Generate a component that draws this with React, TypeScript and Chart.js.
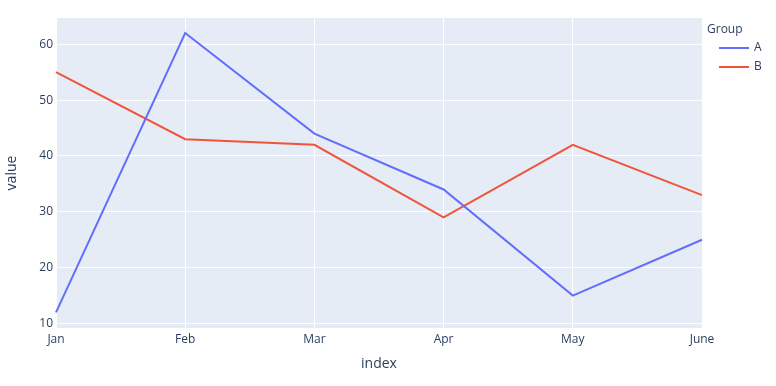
import React, { useEffect, useRef } from "react";
import { Chart, registerables } from "chart.js";

Chart.register(...registerables);

const categories = ["Jan", "Feb", "Mar", "Apr", "May", "June"];
const seriesA = [12, 62, 44, 34, 15, 25];
const seriesB = [55, 43, 42, 29, 42, 33];
const yTicks = [10, 20, 30, 40, 50, 60];
const seriesNames = ["A", "B"];
const seriesColors = ["#636efa", "#EF553B"];
const legendTitle = "Group";

const FONT = '"Open Sans", verdana, arial, sans-serif';
const TEXT = "#2a3f5f";

export default function App() {
  const ref = useRef<HTMLCanvasElement | null>(null);

  useEffect(() => {
    document.body.style.margin = "0";
    const canvas = ref.current!;
    const bgPlugin = {
      id: "plotbg",
      beforeDraw(chart: any) {
        const { ctx, chartArea } = chart;
        ctx.save();
        ctx.fillStyle = "#E5ECF6";
        ctx.fillRect(chartArea.left, chartArea.top, chartArea.right - chartArea.left, chartArea.bottom - chartArea.top);
        ctx.restore();
      },
    };
    const legendPlugin = {
      id: "customLegend",
      afterDraw(chart: any) {
        const { ctx } = chart;
        ctx.save();
        ctx.font = `12px ${FONT}`;
        ctx.fillStyle = TEXT;
        ctx.textBaseline = "middle";
        ctx.textAlign = "left";
        ctx.fillText(legendTitle, 707, 30);
        seriesNames.forEach((name, i) => {
          const y = 48 + i * 19;
          ctx.strokeStyle = seriesColors[i];
          ctx.lineWidth = 2;
          ctx.beginPath();
          ctx.moveTo(719, y);
          ctx.lineTo(749, y);
          ctx.stroke();
          ctx.fillStyle = TEXT;
          ctx.fillText(name, 754, y);
        });
        ctx.restore();
      },
    };
    const chart = new Chart(canvas, {
      type: "line",
      data: {
        labels: categories,
        datasets: [
          { label: seriesNames[0], data: seriesA, borderColor: seriesColors[0], borderWidth: 2, pointRadius: 0, tension: 0, fill: false },
          { label: seriesNames[1], data: seriesB, borderColor: seriesColors[1], borderWidth: 2, pointRadius: 0, tension: 0, fill: false },
        ],
      },
      options: {
        animation: false,
        responsive: false,
        maintainAspectRatio: false,
        layout: { padding: { top: 18, right: 74, left: 0, bottom: 0 } },
        plugins: { legend: { display: false }, tooltip: { enabled: false } },
        scales: {
          x: {
            type: "category",
            offset: false,
            grid: { color: "#ffffff", lineWidth: 1, drawTicks: false },
            border: { display: false },
            ticks: { color: TEXT, font: { family: FONT, size: 12 }, padding: 4, maxRotation: 0, autoSkip: false },
            title: { display: true, text: "index", color: TEXT, font: { family: FONT, size: 14 }, padding: { top: 4, bottom: 14 } },
            afterFit: (s: any) => { s.height = 58; },
          },
          y: {
            type: "linear",
            min: 9.2,
            max: 64.7,
            grid: { color: "#ffffff", lineWidth: 1, drawTicks: false },
            border: { display: false },
            ticks: { color: TEXT, font: { family: FONT, size: 12 }, padding: 3 },
            afterBuildTicks: (s: any) => { s.ticks = yTicks.map((v) => ({ value: v })); },
            title: { display: true, text: "value", color: TEXT, font: { family: FONT, size: 14 }, padding: { top: 4, bottom: 4 } },
            afterFit: (s: any) => { s.width = 56; },
          },
        },
      },
      plugins: [bgPlugin, legendPlugin],
    } as any);
    return () => chart.destroy();
  }, []);

  return (
    <div style={{ width: 776, height: 386, background: "#fff" }}>
      <canvas ref={ref} width={776} height={386} style={{ display: "block" }} />
    </div>
  );
}
